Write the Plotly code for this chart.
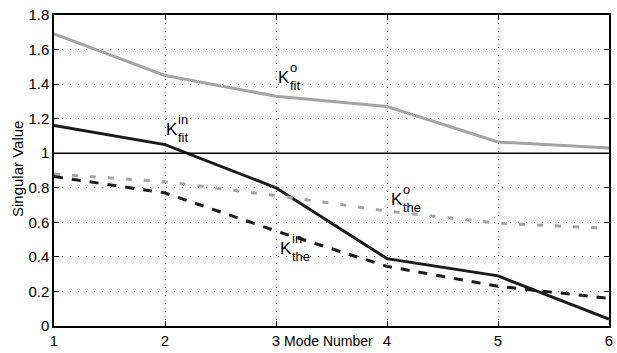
import plotly.graph_objects as go

modes = [1, 2, 3, 4, 5, 6]
k_fit_o = [1.69, 1.45, 1.33, 1.27, 1.065, 1.03]
k_fit_in = [1.16, 1.05, 0.80, 0.39, 0.29, 0.04]
k_the_o = [0.88, 0.835, 0.755, 0.665, 0.595, 0.565]
k_the_in = [0.865, 0.77, 0.55, 0.345, 0.23, 0.16]
x_ticks = [1, 2, 3, 4, 5, 6]
y_ticks = [0, 0.2, 0.4, 0.6, 0.8, 1, 1.2, 1.4, 1.6, 1.8]
y_tick_text = ["0", "0.2", "0.4", "0.6", "0.8", "1", "1.2", "1.4", "1.6", "1.8"]

LIGHT = "#a4a4a4"
DARK = "#1a1a1a"
FONT = "Liberation Sans, Arial, sans-serif"

fig = go.Figure()
fig.add_trace(go.Scatter(x=modes, y=k_fit_o, mode="lines", line=dict(color=LIGHT, width=3)))
fig.add_trace(go.Scatter(x=modes, y=k_fit_in, mode="lines", line=dict(color=DARK, width=3)))
fig.add_trace(go.Scatter(x=modes, y=k_the_o, mode="lines", line=dict(color=LIGHT, width=3, dash="6px,12px")))
fig.add_trace(go.Scatter(x=modes, y=k_the_in, mode="lines", line=dict(color=DARK, width=3, dash="9px,9px")))

fig.add_shape(type="line", xref="paper", x0=0, x1=1, yref="y", y0=1, y1=1,
              line=dict(color="black", width=1.5))

def label(x, y, sup, sub):
    fig.add_annotation(x=x, y=y, text="K", showarrow=False, xanchor="left", yanchor="middle",
                       font=dict(family=FONT, size=17, color="black"))
    fig.add_annotation(x=x, y=y, text=sup, showarrow=False, xanchor="left", yanchor="middle",
                       xshift=12, yshift=10, font=dict(family=FONT, size=13, color="black"))
    fig.add_annotation(x=x, y=y, text=sub, showarrow=False, xanchor="left", yanchor="middle",
                       xshift=12, yshift=-8, font=dict(family=FONT, size=13, color="black"))

label(3.0, 1.44, "o", "fit")
label(1.99, 1.137, "in", "fit")
label(4.02, 0.73, "o", "the")
label(3.02, 0.45, "in", "the")

fig.add_annotation(xref="paper", yref="paper", x=0.494, y=-0.047, xanchor="center", yanchor="middle",
                   text="Mode Number", showarrow=False, font=dict(family=FONT, size=14, color="black"))
fig.add_annotation(xref="paper", yref="paper", x=-0.066, y=0.506, xanchor="center", textangle=-90,
                   text="Singular Value", showarrow=False, font=dict(family=FONT, size=15, color="black"))

axis_common = dict(showline=True, linecolor="black", linewidth=1.5, mirror="ticks",
                   ticks="inside", ticklen=5, tickcolor="black",
                   showgrid=True, gridcolor="#333", griddash="1px,7px", gridwidth=1,
                   zeroline=False, ticklabeloverflow="allow",
                   tickfont=dict(family=FONT, size=15, color="black"))

fig.update_xaxes(range=[1, 6], tickvals=x_ticks, ticklabelstandoff=0, **axis_common)
fig.update_yaxes(range=[0, 1.8], tickvals=y_ticks, ticktext=y_tick_text, **axis_common)

fig.update_layout(width=617, height=353, margin=dict(l=54, r=4, t=15, b=24),
                  paper_bgcolor="white", plot_bgcolor="white", showlegend=False)

fig.write_html("out.html", config={"displayModeBar": False},
               post_script="document.body.style.margin='0';document.body.style.overflow='hidden';")
